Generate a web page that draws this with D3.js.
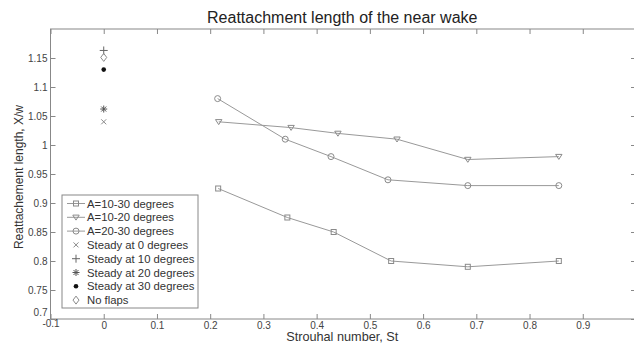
<!DOCTYPE html>
<html>
<head>
<meta charset="utf-8">
<script src="https://cdn.jsdelivr.net/npm/d3@7"></script>
<style>
  body { margin: 0; background: #fff; }
  svg { font-family: "Liberation Sans", Arial, sans-serif; }
</style>
</head>
<body>
<div id="chart"></div>
<script>
// Strouhal numbers and reattachment lengths
const stA1030 = [0.215, 0.345, 0.432, 0.54, 0.684, 0.855];
const lenA1030 = [0.925, 0.875, 0.85, 0.80, 0.79, 0.80];
const stA1020 = [0.216, 0.352, 0.44, 0.551, 0.684, 0.855];
const lenA1020 = [1.04, 1.03, 1.02, 1.01, 0.975, 0.98];
const stA2030 = [0.214, 0.341, 0.427, 0.534, 0.684, 0.855];
const lenA2030 = [1.08, 1.01, 0.98, 0.94, 0.93, 0.93];

// steady cases, all at St = 0
const steadyLabels = ['Steady at 0 degrees', 'Steady at 10 degrees', 'Steady at 20 degrees', 'Steady at 30 degrees', 'No flaps'];
const steadyLens = [1.04, 1.163, 1.062, 1.13, 1.151];

const xTicks = [-0.1, 0, 0.1, 0.2, 0.3, 0.4, 0.5, 0.6, 0.7, 0.8, 0.9];
const yTicks = [0.7, 0.75, 0.8, 0.85, 0.9, 0.95, 1, 1.05, 1.1, 1.15];

const width = 634, height = 348;
const plotL = 50.5, plotR = 636, plotT = 29, plotB = 319;
const grey = '#8a8a8a';

const svg = d3.select('#chart').append('svg')
  .attr('width', width)
  .attr('height', height);

const x = d3.scaleLinear().domain([-0.1, 1.0]).range([plotL, plotR]);
const y = d3.scaleLinear().domain([0.7, 1.2]).range([plotB, plotT]);

// frame
svg.append('rect')
  .attr('x', plotL).attr('y', plotT)
  .attr('width', plotR - plotL).attr('height', plotB - plotT)
  .attr('fill', 'none').attr('stroke', '#888').attr('stroke-width', 1);

const fmt = d => d === 1 ? '1' : String(d);

// axes (ticks pointing inward, like MATLAB)
const xAxis = svg.append('g').attr('transform', 'translate(0,' + plotB + ')')
  .call(d3.axisBottom(x).tickValues(xTicks).tickSize(-5).tickFormat(fmt).tickPadding(3));
svg.append('g').attr('transform', 'translate(0,' + plotT + ')')
  .call(d3.axisTop(x).tickValues(xTicks).tickSize(-5).tickFormat(''));
const yAxis = svg.append('g').attr('transform', 'translate(' + plotL + ',0)')
  .call(d3.axisLeft(y).tickValues(yTicks).tickSize(-5).tickFormat(fmt).tickPadding(3));
svg.append('g').attr('transform', 'translate(' + plotR + ',0)')
  .call(d3.axisRight(y).tickValues(yTicks).tickSize(-5).tickFormat(''));

svg.selectAll('.domain').remove();
svg.selectAll('.tick line').attr('stroke', '#888');
svg.selectAll('.tick text').attr('fill', '#444').style('font-size', '10px');
// corner labels sit a little off like in the original
yAxis.selectAll('.tick text').filter(d => d === 0.7).attr('dy', '-0.35em');
xAxis.selectAll('.tick text').filter(d => d === -0.1).attr('dy', '0.5em');

// titles
svg.append('text')
  .attr('x', (plotL + plotR) / 2 - 1).attr('y', 23)
  .attr('text-anchor', 'middle')
  .attr('fill', '#222').style('font-size', '16px')
  .text('Reattachment length of the near wake');

svg.append('text')
  .attr('x', (plotL + plotR) / 2 - 1).attr('y', 341)
  .attr('text-anchor', 'middle')
  .attr('fill', '#333').style('font-size', '12.7px')
  .text('Strouhal number, St');

svg.append('text')
  .attr('transform', 'translate(23,' + ((plotT + plotB) / 2 + 3) + ') rotate(-90)')
  .attr('text-anchor', 'middle')
  .attr('fill', '#333').style('font-size', '12px')
  .text('Reattachement length, X/w');

// marker helpers
function marker(g, type, cx, cy) {
  if (type === 'square') {
    g.append('rect').attr('x', cx - 2.5).attr('y', cy - 2.5).attr('width', 5).attr('height', 5)
      .attr('fill', 'none').attr('stroke', grey);
  } else if (type === 'triangle') {
    g.append('path').attr('d', 'M' + (cx - 3.2) + ',' + (cy - 2.2) + 'L' + (cx + 3.2) + ',' + (cy - 2.2) + 'L' + cx + ',' + (cy + 2.8) + 'Z')
      .attr('fill', 'none').attr('stroke', grey);
  } else if (type === 'circle') {
    g.append('circle').attr('cx', cx).attr('cy', cy).attr('r', 3)
      .attr('fill', 'none').attr('stroke', grey);
  } else if (type === 'x') {
    g.append('path').attr('d', 'M' + (cx - 2.5) + ',' + (cy - 2.5) + 'L' + (cx + 2.5) + ',' + (cy + 2.5) + 'M' + (cx - 2.5) + ',' + (cy + 2.5) + 'L' + (cx + 2.5) + ',' + (cy - 2.5))
      .attr('stroke', grey);
  } else if (type === 'plus') {
    g.append('path').attr('d', 'M' + (cx - 4) + ',' + cy + 'L' + (cx + 4) + ',' + cy + 'M' + cx + ',' + (cy - 4) + 'L' + cx + ',' + (cy + 4))
      .attr('stroke', '#666');
  } else if (type === 'star') {
    g.append('path').attr('d', 'M' + (cx - 3.5) + ',' + cy + 'L' + (cx + 3.5) + ',' + cy + 'M' + cx + ',' + (cy - 3.5) + 'L' + cx + ',' + (cy + 3.5) +
      'M' + (cx - 2.5) + ',' + (cy - 2.5) + 'L' + (cx + 2.5) + ',' + (cy + 2.5) + 'M' + (cx - 2.5) + ',' + (cy + 2.5) + 'L' + (cx + 2.5) + ',' + (cy - 2.5))
      .attr('stroke', '#555');
  } else if (type === 'dot') {
    g.append('circle').attr('cx', cx).attr('cy', cy).attr('r', 2.3).attr('fill', '#111');
  } else if (type === 'diamond') {
    g.append('path').attr('d', 'M' + cx + ',' + (cy - 4) + 'L' + (cx + 3) + ',' + cy + 'L' + cx + ',' + (cy + 4) + 'L' + (cx - 3) + ',' + cy + 'Z')
      .attr('fill', 'none').attr('stroke', grey);
  }
}

const series = [
  { name: 'A=10-30 degrees', st: stA1030, len: lenA1030, m: 'square' },
  { name: 'A=10-20 degrees', st: stA1020, len: lenA1020, m: 'triangle' },
  { name: 'A=20-30 degrees', st: stA2030, len: lenA2030, m: 'circle' }
];

const line = d3.line().x(d => x(d[0])).y(d => y(d[1]));

series.forEach(s => {
  const pts = s.st.map((v, i) => [v, s.len[i]]);
  svg.append('path').datum(pts)
    .attr('d', line)
    .attr('fill', 'none').attr('stroke', '#999').attr('stroke-width', 1);
  const g = svg.append('g');
  pts.forEach(p => marker(g, s.m, x(p[0]), y(p[1])));
});

const steadyMarks = ['x', 'plus', 'star', 'dot', 'diamond'];
steadyLens.forEach((v, i) => marker(svg.append('g'), steadyMarks[i], x(0), y(v)));

// legend
const lg = svg.append('g');
lg.append('rect')
  .attr('x', 62).attr('y', 195).attr('width', 136).attr('height', 113)
  .attr('fill', '#fff').attr('stroke', '#888');

const legendItems = series.map(s => ({ name: s.name, m: s.m, line: true }))
  .concat(steadyLabels.map((n, i) => ({ name: n, m: steadyMarks[i], line: false })));

legendItems.forEach((d, i) => {
  const ly = 203.5 + i * 13.8;
  if (d.line) {
    lg.append('line').attr('x1', 67).attr('x2', 85).attr('y1', ly).attr('y2', ly)
      .attr('stroke', '#999');
  }
  marker(lg, d.m, 76, ly);
  lg.append('text')
    .attr('x', 87).attr('y', ly + 4)
    .attr('fill', '#333').style('font-size', '11.3px')
    .text(d.name);
});
</script>
</body>
</html>
